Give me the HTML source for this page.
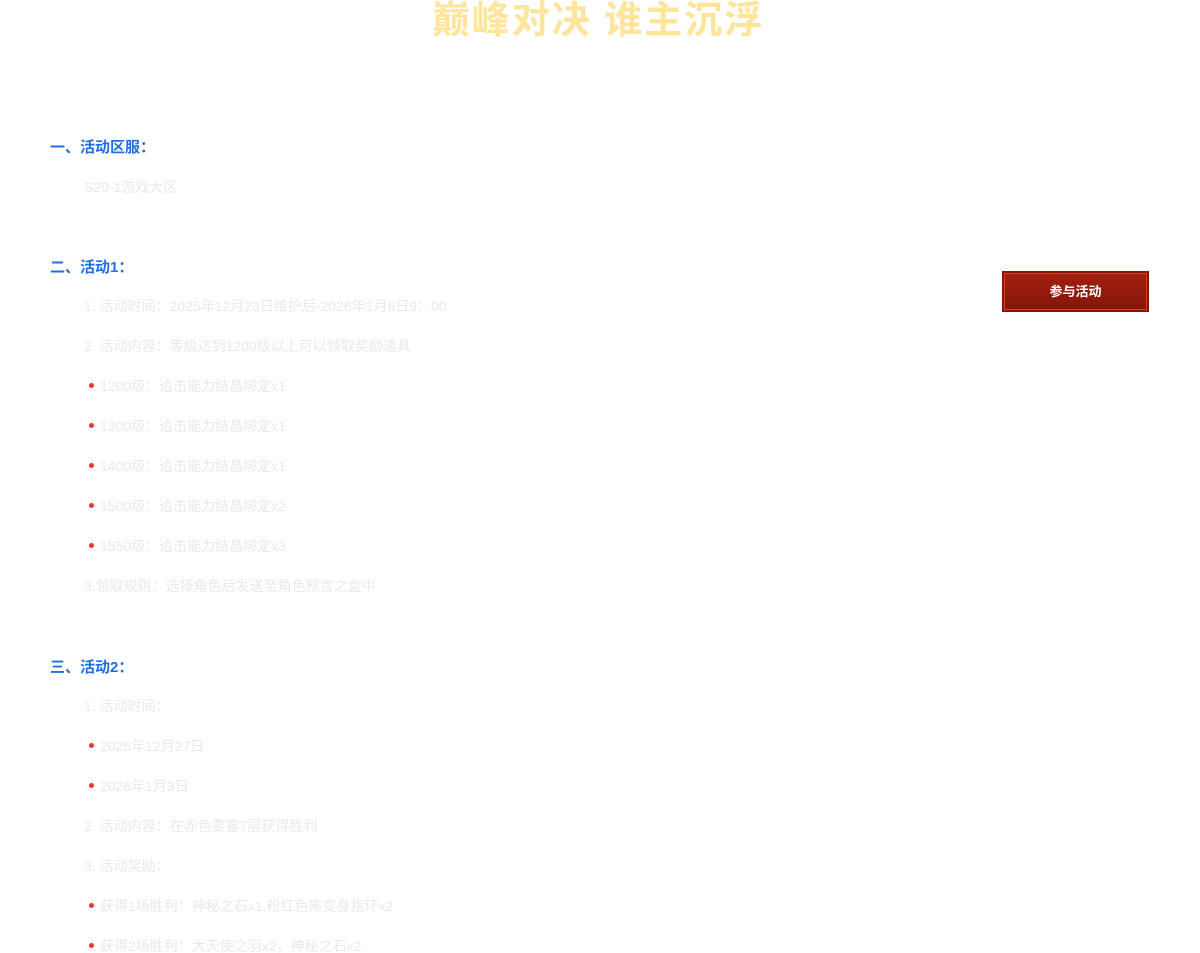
<!DOCTYPE html>
<html><head><meta charset="utf-8"><style>
html,body{margin:0;padding:0;background:#fff;width:1200px;height:953px;overflow:hidden;position:relative;font-family:"Liberation Sans","Noto Sans CJK SC",sans-serif}
.t{position:absolute;left:0;width:1196px;top:-3px;text-align:center;font-size:38px;font-weight:bold;color:#ffe49c;letter-spacing:2px;line-height:48px}
.h{position:absolute;left:50px;font-size:15px;font-weight:bold;color:#1f6fe0;line-height:20px}
.l{position:absolute;left:84px;font-size:14px;color:#e9e9e9;line-height:20px;white-space:nowrap}
.b{left:100px}
.d{position:absolute;left:89px;width:5px;height:5px;border-radius:50%;background:#e8343a}
.btn{position:absolute;left:1002px;top:271px;width:143px;height:37px;border:2px solid #8a1408;background:linear-gradient(#a51f0c,#82160b);box-shadow:inset 0 0 0 1px #d2412a;color:#fff;font-weight:bold;font-size:13px;text-align:center;line-height:38px}
</style></head><body>
<div class="t">巅峰对决 谁主沉浮</div>
<div class="h" style="top:138px">一、活动区服：</div>
<div class="l" style="top:177px">S20-1游戏大区</div>
<div class="h" style="top:258px">二、活动1：</div>
<div class="btn">参与活动</div>
<div class="l" style="top:296px">1. 活动时间：2025年12月23日维护后-2026年1月6日9：00</div>
<div class="l" style="top:336px">2. 活动内容：等级达到1200级以上可以领取奖励道具</div>
<div class="d" style="top:383px"></div><div class="l b" style="top:376px">1200级：追击能力结晶绑定x1</div>
<div class="d" style="top:423px"></div><div class="l b" style="top:416px">1300级：追击能力结晶绑定x1</div>
<div class="d" style="top:463px"></div><div class="l b" style="top:456px">1400级：追击能力结晶绑定x1</div>
<div class="d" style="top:503px"></div><div class="l b" style="top:496px">1500级：追击能力结晶绑定x2</div>
<div class="d" style="top:543px"></div><div class="l b" style="top:536px">1550级：追击能力结晶绑定x3</div>
<div class="l" style="top:576px">3.领取规则：选择角色后发送至角色预言之盒中</div>
<div class="h" style="top:658px">三、活动2：</div>
<div class="l" style="top:696px">1. 活动时间：</div>
<div class="d" style="top:743px"></div><div class="l b" style="top:736px">2025年12月27日</div>
<div class="d" style="top:783px"></div><div class="l b" style="top:776px">2026年1月3日</div>
<div class="l" style="top:816px">2. 活动内容：在赤色要塞7层获得胜利</div>
<div class="l" style="top:856px">3. 活动奖励：</div>
<div class="d" style="top:903px"></div><div class="l b" style="top:896px">获得1场胜利：神秘之石x1,粉红色熊变身指环x2</div>
<div class="d" style="top:943px"></div><div class="l b" style="top:936px">获得2场胜利：大天使之羽x2，神秘之石x2</div>
</body></html>
